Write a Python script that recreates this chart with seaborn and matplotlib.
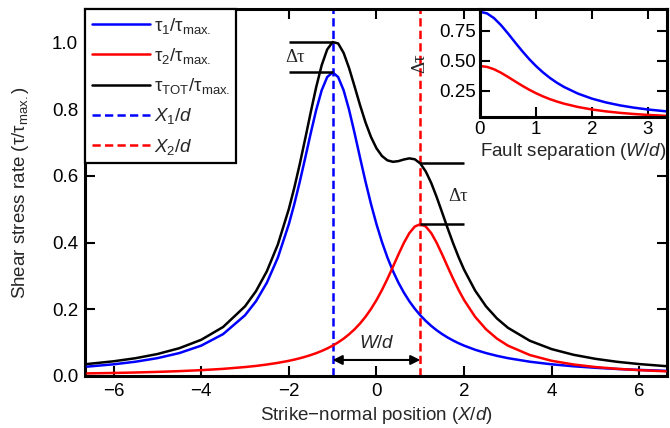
import matplotlib
matplotlib.use("Agg")
import matplotlib.pyplot as plt
import seaborn as sns
import pandas as pd
import numpy as np

# ---- data ----
x_pos = [-6.6, -6.0, -5.5, -5.0, -4.5, -4.0, -3.5, -3.0, -2.75, -2.5, -2.25,
         -2.0, -1.875, -1.75, -1.625, -1.5, -1.375, -1.25, -1.125, -1.0,
         -0.875, -0.75, -0.625, -0.5, -0.375, -0.25, -0.125, 0.0, 0.125, 0.25,
         0.375, 0.5, 0.625, 0.75, 0.875, 1.0, 1.125, 1.25, 1.375, 1.5, 1.625,
         1.75, 1.875, 2.0, 2.25, 2.5, 2.75, 3.0, 3.5, 4.0, 4.5, 5.0, 5.5, 6.0, 6.6]
tau1 = [0.0281, 0.0350, 0.0428, 0.0535, 0.0687, 0.0910, 0.1255, 0.1820, 0.2240,
        0.2800, 0.3551, 0.4550, 0.5154, 0.5824, 0.6544, 0.7280, 0.7978, 0.8565,
        0.8960, 0.9100, 0.8960, 0.8565, 0.7978, 0.7280, 0.6544, 0.5824, 0.5154,
        0.4550, 0.4017, 0.3551, 0.3148, 0.2800, 0.2500, 0.2240, 0.2015, 0.1820,
        0.1650, 0.1501, 0.1370, 0.1255, 0.1153, 0.1063, 0.0982, 0.0910, 0.0787,
        0.0687, 0.0604, 0.0535, 0.0428, 0.0350, 0.0291, 0.0246, 0.0210, 0.0182,
        0.0155]
tau2 = [0.0078, 0.0091, 0.0105, 0.0123, 0.0146, 0.0175, 0.0214, 0.0268, 0.0302,
        0.0344, 0.0394, 0.0455, 0.0491, 0.0532, 0.0577, 0.0628, 0.0685, 0.0751,
        0.0825, 0.0910, 0.1008, 0.1120, 0.1250, 0.1400, 0.1574, 0.1776, 0.2009,
        0.2275, 0.2577, 0.2912, 0.3272, 0.3640, 0.3989, 0.4283, 0.4480, 0.4550,
        0.4480, 0.4283, 0.3989, 0.3640, 0.3272, 0.2912, 0.2577, 0.2275, 0.1776,
        0.1400, 0.1120, 0.0910, 0.0628, 0.0455, 0.0344, 0.0268, 0.0214, 0.0175,
        0.0141]
tau_tot = [0.0359, 0.0441, 0.0533, 0.0658, 0.0833, 0.1085, 0.1469, 0.2088, 0.2542,
           0.3144, 0.3945, 0.5005, 0.5645, 0.6356, 0.7121, 0.7908, 0.8663, 0.9316,
           0.9785, 1.0010, 0.9968, 0.9685, 0.9228, 0.8680, 0.8118, 0.7600, 0.7163,
           0.6825, 0.6594, 0.6463, 0.6420, 0.6440, 0.6489, 0.6523, 0.6495, 0.6370,
           0.6130, 0.5784, 0.5359, 0.4895, 0.4425, 0.3975, 0.3559, 0.3185, 0.2563,
           0.2087, 0.1724, 0.1445, 0.1056, 0.0805, 0.0635, 0.0514, 0.0424, 0.0357,
           0.0296]
fault_x = [-1.0, 1.0]

# inset: delta tau vs fault separation
sep = [0.0, 0.125, 0.25, 0.375, 0.5, 0.625, 0.75, 0.875, 1.0, 1.125, 1.25,
       1.375, 1.5, 1.75, 2.0, 2.25, 2.5, 2.75, 3.0, 3.35]
dtau1 = [0.910, 0.8960, 0.8565, 0.7978, 0.728, 0.6544, 0.5824, 0.5154, 0.455,
         0.4017, 0.3551, 0.3148, 0.280, 0.224, 0.182, 0.1501, 0.1255, 0.1063,
         0.091, 0.0745]
dtau2 = [0.455, 0.4480, 0.4283, 0.3989, 0.364, 0.3272, 0.2912, 0.2577, 0.2275,
         0.2009, 0.1776, 0.1574, 0.140, 0.112, 0.091, 0.0751, 0.0628, 0.0532,
         0.0455, 0.0372]

main_xticks = [-6, -4, -2, 0, 2, 4, 6]
main_yticks = [0.0, 0.2, 0.4, 0.6, 0.8, 1.0]
inset_xticks = [0, 1, 2, 3]
inset_yticks = [0.25, 0.50, 0.75]

# ---- style ----
sns.set_style("ticks")
plt.rcParams['font.family'] = ['Liberation Sans', 'DejaVu Sans']
plt.rcParams['mathtext.fontset'] = 'custom'
plt.rcParams['mathtext.rm'] = 'Liberation Sans'
plt.rcParams['mathtext.it'] = 'Liberation Sans:italic'
plt.rcParams['mathtext.bf'] = 'Liberation Sans:bold'

BLUE = '#0000ff'
RED = '#ff0000'
LW = 1.8
FS = 13.5

fig = plt.figure(figsize=(6.7, 4.28), dpi=100)
ax = fig.add_axes([0.127, 0.1215, 0.8685, 0.8575])

df = pd.DataFrame({'x': x_pos, 't1': tau1, 't2': tau2, 'tt': tau_tot})
sns.lineplot(data=df, x='x', y='t1', ax=ax, color=BLUE, lw=LW,
             label=r'τ$_1$/τ$_{\mathrm{max.}}$', zorder=3)
sns.lineplot(data=df, x='x', y='t2', ax=ax, color=RED, lw=LW,
             label=r'τ$_2$/τ$_{\mathrm{max.}}$', zorder=3)
sns.lineplot(data=df, x='x', y='tt', ax=ax, color='black', lw=LW,
             label=r'τ$_{\mathrm{TOT}}$/τ$_{\mathrm{max.}}$', zorder=3)
ax.axvline(fault_x[0], color=BLUE, lw=LW, ls=(0, (3.3, 1.7)), label=r'$X_1/d$', zorder=2)
ax.axvline(fault_x[1], color=RED, lw=LW, ls=(0, (3.3, 1.7)), label=r'$X_2/d$', zorder=2)

ax.set_xlim(-6.65, 6.63)
ax.set_ylim(0, 1.1)
ax.set_xticks(main_xticks)
ax.set_xticklabels(['\u2212' + str(abs(v)) if v < 0 else str(v) for v in main_xticks])
ax.set_yticks(main_yticks)
ax.set_yticklabels([f'{v:.1f}' for v in main_yticks])
ax.tick_params(direction='in', length=7, width=1.5, top=True, right=True,
               labelsize=FS, pad=5, colors='black')
for s in ax.spines.values():
    s.set_linewidth(2.2)
    s.set_color('black')
ax.set_xlabel('Strike\u2212normal position ($X/d$)', fontsize=FS, labelpad=4)
ax.set_ylabel(r'Shear stress rate (τ/τ$_{\mathrm{max.}}$)', fontsize=FS, labelpad=15)

# delta tau annotations
peak1_tot = max(tau_tot)
peak1_blue = max(tau1)
ax.hlines([peak1_tot, peak1_blue], -2.0, fault_x[0], color='black', lw=1.8, zorder=4)
ax.text(-1.85, (peak1_tot + peak1_blue) / 2, 'Δτ', fontsize=FS, family='Liberation Serif',
        ha='center', va='center')
i2 = x_pos.index(1.0)
ax.hlines([tau_tot[i2], max(tau2)], fault_x[1], 2.0, color='black', lw=1.8, zorder=4)
ax.text(1.87, 0.537, 'Δτ', fontsize=FS, family='Liberation Serif', ha='center', va='center')

# W/d arrow
ax.annotate('', xy=(fault_x[0], 0.048), xytext=(fault_x[1], 0.048),
            arrowprops=dict(arrowstyle='<|-|>', color='black', lw=1.5,
                            mutation_scale=14, shrinkA=0, shrinkB=0))
ax.text(0.0, 0.097, '$W/d$', fontsize=FS, ha='center', va='center')

leg = ax.legend(loc='upper left', borderaxespad=0, fancybox=False, fontsize=FS,
                handlelength=3.1, handletextpad=0.2, labelspacing=0.55,
                borderpad=0.35, framealpha=1)
leg.get_frame().set_edgecolor('black')
leg.get_frame().set_linewidth(1.6)

# ---- inset ----
axi = fig.add_axes([0.7164, 0.7266, 0.2791, 0.2524])
dfi = pd.DataFrame({'w': sep, 'd1': dtau1, 'd2': dtau2})
sns.lineplot(data=dfi, x='w', y='d1', ax=axi, color=BLUE, lw=LW)
sns.lineplot(data=dfi, x='w', y='d2', ax=axi, color=RED, lw=LW)
axi.set_xlim(0, 3.34)
axi.set_ylim(0.028, 0.933)
axi.set_xticks(inset_xticks)
axi.set_yticks(inset_yticks)
axi.set_yticklabels([f'{v:.2f}' for v in inset_yticks])
axi.tick_params(direction='in', length=7, width=1.5, top=True, right=True,
                labelsize=FS, pad=3, colors='black')
for s in axi.spines.values():
    s.set_linewidth(2.2)
    s.set_color('black')
axi.set_xlabel('Fault separation ($W/d$)', fontsize=FS, labelpad=2)
axi.set_ylabel('Δτ', fontsize=FS, family='Liberation Serif', labelpad=8)

fig.savefig('out.png', dpi=100)
